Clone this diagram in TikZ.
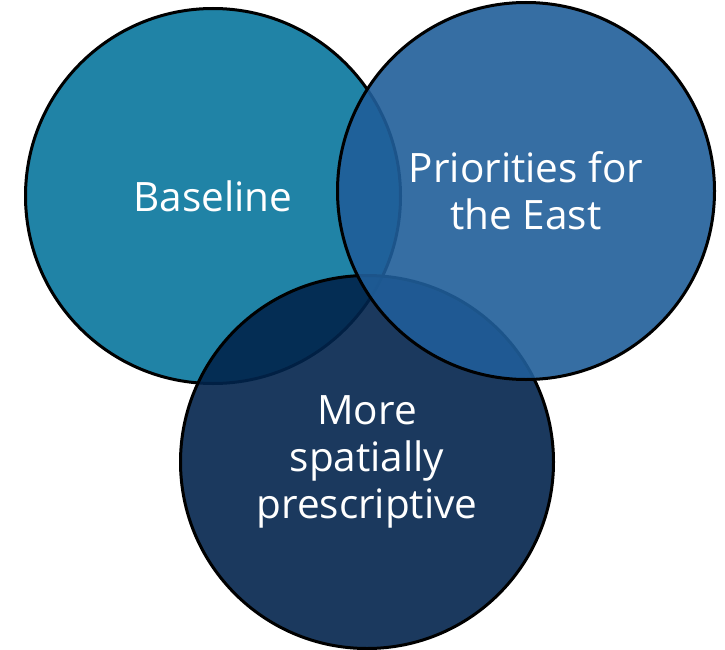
\documentclass[tikz,border=0pt]{standalone}
\usepackage{fontspec}
\setmainfont{Open Sans}
\definecolor{baseteal}{RGB}{8,117,156}
\definecolor{eastblue}{RGB}{32,94,153}
\definecolor{spatialnavy}{RGB}{2,36,76}
\begin{document}
\begin{tikzpicture}[x=1pt, y=-1pt,
  venn/.style={circle, draw=black, line width=3pt, inner sep=0pt,
    fill opacity=.9, text opacity=1, text=white,
    align=center, font=\fontsize{40.5}{47}\selectfont}]
\useasboundingbox (0,0) rectangle (725,650);
\node[venn, fill=baseteal, minimum size=375pt] (base) at (213,196) {Baseline};
\node[venn, fill=spatialnavy, minimum size=373pt] (spatial) at (367,462) {More\\spatially\\prescriptive};
\node[venn, fill=eastblue, minimum size=377pt] (east) at (526,191) {Priorities for\\the East};
\end{tikzpicture}
\end{document}
